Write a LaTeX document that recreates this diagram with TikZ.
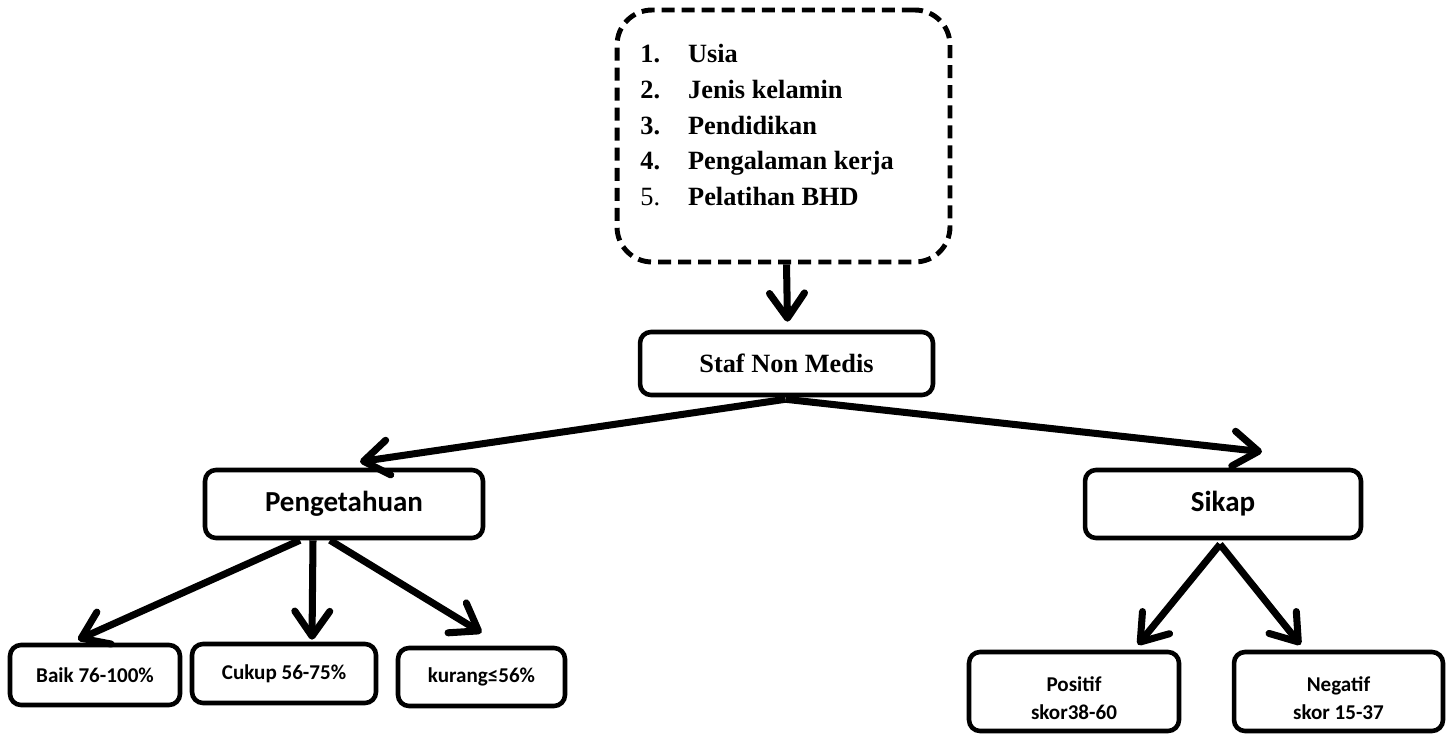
\documentclass[tikz,border=0pt]{standalone}
\usepackage{fontspec}
\setmainfont{Liberation Serif}
\newfontfamily\calibri{Carlito}
\usepackage{tikz}
\usetikzlibrary{arrows.meta,calc,positioning}

\begin{document}
\begin{tikzpicture}[x=0.02cm,y=-0.02cm,
  box/.style={draw=black,line width=2.6pt,rounded corners=0.22cm,align=center,inner sep=0pt},
  dashbox/.style={draw=black,line width=2.8pt,dash pattern=on 7.4pt off 4pt,rounded corners=0.7cm},
  mid/.style={font=\calibri\bfseries\fontsize{16.5}{20}\selectfont},
  low/.style={font=\calibri\bfseries\fontsize{12}{16.4}\selectfont},
  arr/.style={line width=4pt,-{Straight Barb[length=5mm,width=7mm,round]}}]
  \useasboundingbox (0,0) rectangle (1450,736);
  % faktor karakteristik
  \node[dashbox,minimum width=6.66cm,minimum height=5.04cm] (factors) at (783.5,136) {};
  \node[anchor=north west,inner sep=0pt,font=\bfseries\fontsize{15}{20.4}\selectfont] (list) at (640,37)
    {\begin{tabular}{@{}p{27.2pt}@{}l@{}}1. & Usia\\ 2. & Jenis kelamin\\ 3. & Pendidikan\\ 4. & Pengalaman kerja\\ \mdseries 5. & Pelatihan BHD\end{tabular}};
  \node[box,minimum width=5.86cm,minimum height=1.26cm,font=\bfseries\fontsize{15}{18}\selectfont] (staf) at (786.5,363.5) {Staf Non Medis};
  \node[box,mid,minimum width=5.56cm,minimum height=1.36cm] (peng) at (344,504) {Pengetahuan};
  \node[box,mid,minimum width=5.52cm,minimum height=1.36cm] (sikap) at (1223,504) {Sikap};
  \node[box,low,minimum width=3.4cm,minimum height=1.2cm] (baik) at (95,675) {Baik 76-100\%};
  \node[box,low,minimum width=3.68cm,minimum height=1.18cm] (cukup) at (284,673.5) {Cukup 56-75\%};
  \node[box,low,minimum width=3.34cm,minimum height=1.16cm] (kurang) at (481.5,677) {kurang≤56\%};
  \node[box,low,minimum width=4.2cm,minimum height=1.58cm] (positif) at (1074,691.5) {\rule{0pt}{16pt}Positif\\skor38-60};
  \node[box,low,minimum width=4.18cm,minimum height=1.58cm] (negatif) at (1338.5,691.5) {\rule{0pt}{16pt}Negatif\\skor 15-37};
  % panah
  \draw[arr] (staf.north |- factors.south) -- ($(staf.north)+(1,-8)$);
  \draw[arr] ($(staf.south)+(-1,2)$) -- ($(peng.north)+(16,-6)$);
  \draw[arr] ($(staf.south)+(-1,2)$) -- ($(sikap.north)+(39,-16)$);
  \draw[arr] ($(peng.south)+(-44,0)$) -- ($(baik.north)+(-17,-3)$);
  \draw[arr] ($(peng.south)+(-31,0)$) -- ($(cukup.north)+(28,-2)$);
  \draw[arr] ($(peng.south)+(-14,0)$) -- ($(kurang.north)+(0,-13)$);
  \draw[arr] ($(sikap.south)+(-3,4)$) -- ($(positif.north)+(64,-5)$);
  \draw[arr] ($(sikap.south)+(-3,4)$) -- ($(negatif.north)+(-38,-5)$);
\end{tikzpicture}
\end{document}
